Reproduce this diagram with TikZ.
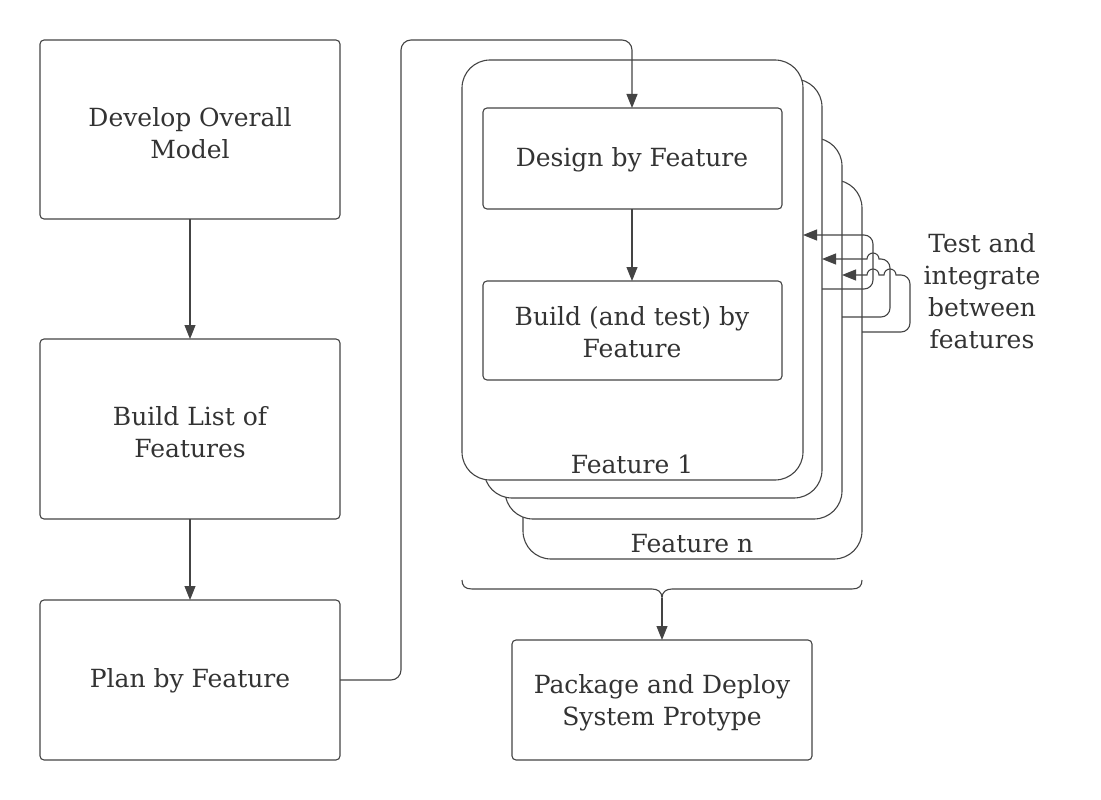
\documentclass[tikz,border=0pt]{standalone}
\usepackage{fontspec}
\setmainfont{DejaVu Serif}
\usetikzlibrary{arrows.meta}
\definecolor{ln}{HTML}{444444}
\definecolor{tx}{HTML}{333333}
\begin{document}
\begin{tikzpicture}[x=1pt,y=1pt,
  every node/.style={text=tx,font=\fontsize{25}{32}\selectfont,align=center},
  boxst/.style={draw=ln,line width=1.1pt,rounded corners=4pt,fill=white},
  cardst/.style={draw=ln,line width=1.1pt,rounded corners=28pt,fill=white},
  conn/.style={draw=ln,line width=1.1pt,-{Triangle[length=14pt,width=11pt]}},
  link/.style={draw=ln,line width=1.1pt}]
\useasboundingbox (0,0) rectangle (1101,-800);
% left column
\draw[boxst] (40,-40) rectangle (340,-219);
\node (dom) at (190,-133) {Develop Overall\\Model};
\draw[boxst] (40,-339) rectangle (340,-519);
\node (blf) at (190,-432) {Build List of\\Features};
\draw[boxst] (40,-600) rectangle (340,-760);
\node (pbf) at (190,-681) {Plan by Feature};
\coordinate (domB) at (190,-219);
\coordinate (blfT) at (190,-339);
\coordinate (blfB) at (190,-519);
\coordinate (pbfT) at (190,-600);
\coordinate (pbfR) at (340,-680);
\draw[conn] (domB) -- (blfT);
\draw[conn] (blfB) -- (pbfT);
% cards
\draw[cardst] (523,-180) rectangle (862,-559);
\draw[cardst] (505,-138) rectangle (842,-519);
\draw[cardst] (484,-79) rectangle (822,-498);
\draw[cardst] (462,-60) rectangle (803,-480);
\node (f1) at (632,-464) {Feature 1};
\node (fn) at (692,-544) {Feature n};
% inner boxes
\draw[boxst] (483,-108) rectangle (782,-209);
\node (dbf) at (632,-160) {Design by Feature};
\draw[boxst] (483,-281) rectangle (782,-380);
\node (bbf) at (632,-332) {Build (and test) by\\Feature};
\coordinate (dbfT) at (632,-108);
\coordinate (dbfB) at (632,-209);
\coordinate (bbfT) at (632,-281);
\draw[conn] (dbfB) -- (bbfT);
\draw[conn,rounded corners=10pt] (pbfR) -- (401,-680) -- (401,-40) -- (632,-40) -- (dbfT);
% test and integrate arrows
\coordinate (c2a) at (822,-289);
\coordinate (c1a) at (803,-235);
\coordinate (c3a) at (842,-317);
\coordinate (c2b) at (822,-259);
\coordinate (c4a) at (862,-332);
\coordinate (c3b) at (842,-275);
\draw[conn,rounded corners=9pt] (c2a) -- (873,-289) -- (873,-235) -- (c1a);
\draw[conn] (c3a) [rounded corners=9pt] -- (890,-317) -- (890,-259) [sharp corners] -- (879,-259) arc (0:180:6) -- (c2b);
\draw[conn] (c4a) [rounded corners=9pt] -- (910,-332) -- (910,-275) [sharp corners] -- (896,-275) arc (0:180:6) -- (879,-275) arc (0:180:6) -- (c3b);
\node (tif) at (982,-291) {Test and\\integrate\\between\\features};
% brace
\coordinate (brt) at (662,-598);
\draw[link] (462,-580) .. controls (462,-586) and (465,-589) .. (472,-589) -- (652,-589) .. controls (658,-589) and (662,-592) .. (brt) .. controls (662,-592) and (666,-589) .. (672,-589) -- (852,-589) .. controls (859,-589) and (862,-586) .. (862,-580);
% package
\draw[boxst] (512,-640) rectangle (812,-760);
\node (pkg) at (662,-703) {Package and Deploy\\System Protype};
\coordinate (pkgT) at (662,-640);
\draw[conn] (brt) -- (pkgT);
\end{tikzpicture}
\end{document}
